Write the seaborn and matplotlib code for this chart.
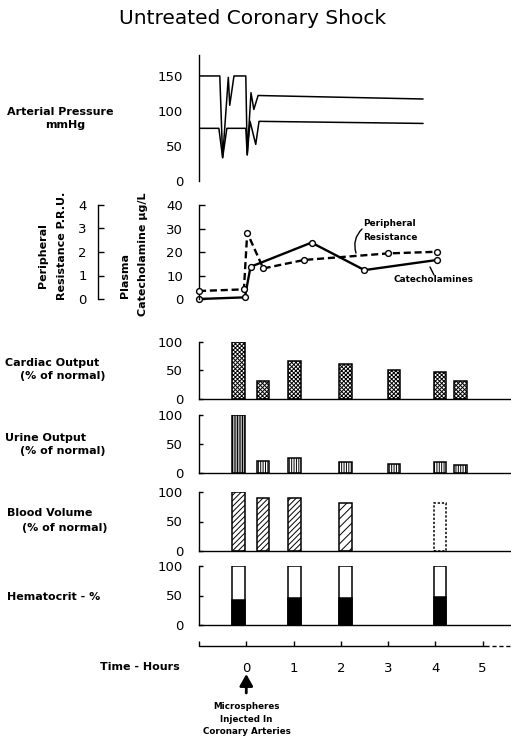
import numpy as np
import matplotlib
matplotlib.use("Agg")
import matplotlib.pyplot as plt
import seaborn as sns

# ---------------------------------------------------------------- data
TITLE = "Untreated Coronary Shock"

# arterial pressure trace (mmHg) against time in hours
AP_SYS_T = [-1.0, -0.56, -0.50, -0.38, -0.35, -0.26, -0.01, 0.02, 0.10, 0.16, 0.25, 3.74]
AP_SYS_V = [150, 150, 33, 148, 108, 150, 150, 37, 126, 102, 122, 117]
AP_DIA_T = [-1.0, -0.58, -0.50, -0.41, -0.01, 0.02, 0.08, 0.20, 0.27, 3.74]
AP_DIA_V = [75, 75, 33, 75, 75, 37, 85, 52, 85, 82]

# plasma catecholamine (ug/L) and peripheral resistance (P.R.U.)
CATECHOL_T = [-1.0, -0.03, 0.09, 1.38, 2.5, 4.03]
CATECHOL_V = [0.0, 0.7, 13.7, 24.0, 12.3, 16.6]
PR_T = [-1.0, -0.05, 0.02, 0.36, 1.22, 3.0, 4.03]
PR_V = [0.34, 0.41, 2.82, 1.30, 1.66, 1.94, 2.01]

# bar measurements (% of normal / %)
BAR_T = [-0.17, 0.35, 1.02, 2.10, 3.12, 4.10, 4.53]
CARDIAC = [100, 32, 67, 62, 51, 47, 32]
URINE = [100, 20, 25, 18, 15, 18, 13]
BV_T = [-0.17, 0.35, 1.02, 2.10, 4.10]
BLOOD_VOL = [100, 91, 90, 82, 82]
HCT_T = [-0.17, 1.02, 2.10, 4.10]
HCT = [43, 46, 46, 47]
HCT_TOTAL = [100, 100, 100, 100]

HOUR_TICKS = [-1, 0, 1, 2, 3, 4, 5]
HOUR_LABELS = ["", "0", "1", "2", "3", "4", "5"]

# ---------------------------------------------------------------- style
sns.set_theme(style="ticks")
plt.rcParams.update({
    "font.family": ["DejaVu Sans"],
    "text.color": "black",
    "axes.labelcolor": "black",
    "axes.linewidth": 1.0,
    "axes.edgecolor": "black",
    "ytick.major.width": 1.0,
    "xtick.major.width": 1.0,
    "ytick.color": "black",
    "xtick.color": "black",
    "ytick.labelcolor": "black",
    "xtick.labelcolor": "black",
    "hatch.linewidth": 0.7,
    "hatch.color": "black",
})

W, H = 511, 738
fig = plt.figure(figsize=(W / 100, H / 100), dpi=100)
fig.patch.set_facecolor("white")
X0, X1 = 199, 511
XLIM = (-1, 5.6)
BAR_W = 0.265
TICK_FS = 9.5
LAB_FS = 8


def axes_at(top, bottom, left=X0, right=X1):
    ax = fig.add_axes([left / W, 1 - bottom / H, (right - left) / W, (bottom - top) / H])
    ax.set_xlim(*XLIM)
    ax.patch.set_alpha(0)
    for s in ("top", "right", "bottom"):
        ax.spines[s].set_visible(False)
    ax.set_xticks([])
    ax.set_xlabel("")
    ax.set_ylabel("")
    return ax


def fig_text(x, y, s, **kw):
    kw.setdefault("fontsize", LAB_FS)
    kw.setdefault("fontweight", "bold")
    kw.setdefault("color", "black")
    fig.text(x / W, 1 - y / H, s, **kw)


def y_ticks(ax, ticks, length=3, pad=11.5):
    ax.set_yticks(ticks)
    ax.set_yticklabels([str(t) for t in ticks])
    ax.tick_params(axis="y", direction="in", length=length, pad=pad,
                   labelsize=TICK_FS, labelcolor="black", color="black")


def bars(ax, t, v, hatches=None, color="white", **kw):
    width = BAR_W / np.min(np.diff(sorted(t)))
    n0 = len(ax.patches)
    sns.barplot(x=t, y=v, native_scale=True, orient="x", width=width,
                color=color, saturation=1, edgecolor="black", linewidth=1.1,
                errorbar=None, ax=ax, **kw)
    new = ax.patches[n0:]
    if hatches is not None:
        for p, h in zip(new, hatches):
            p.set_hatch(h)
    return new


fig_text(252.5, 19, TITLE, fontsize=14.5, fontweight="normal", ha="center", va="center")

# ---------------------------------------------------------------- arterial pressure
ax1 = axes_at(55, 180.7)
ax1.set_ylim(0, 180)
sns.lineplot(x=AP_SYS_T, y=AP_SYS_V, ax=ax1, color="black", lw=1.1,
             sort=False, estimator=None)
sns.lineplot(x=AP_DIA_T, y=AP_DIA_V, ax=ax1, color="black", lw=1.1,
             sort=False, estimator=None)
y_ticks(ax1, [0, 50, 100, 150], length=0)
ax1.set_xlim(*XLIM)
ax1.set_xlabel("")
fig_text(7, 112, "Arterial Pressure", ha="left", va="center")
fig_text(45, 125, "mmHg", ha="left", va="center")

# ---------------------------------------------------------------- catecholamine / resistance
ax2 = axes_at(205, 299)
ax2.set_ylim(0, 40)
y_ticks(ax2, [0, 10, 20, 30, 40], length=4)
pr = ax2.twinx()
pr.set_ylim(0, 4)
pr.patch.set_alpha(0)
for s in ("top", "right", "bottom"):
    pr.spines[s].set_visible(False)
pr.spines["left"].set_visible(True)
pr.spines["left"].set_position(("axes", (98 - X0) / (X1 - X0)))
pr.yaxis.set_ticks_position("left")
pr.yaxis.set_label_position("left")
pr.set_yticks([0, 1, 2, 3, 4])
pr.set_yticklabels(["0", "1", "2", "3", "4"])
pr.tick_params(axis="y", direction="in", length=4, pad=8, labelsize=TICK_FS,
               labelcolor="black", color="black")

marker_kw = dict(marker="o", markersize=4.2, markerfacecolor="white",
                 markeredgecolor="black", markeredgewidth=1.0, clip_on=False)
sns.lineplot(x=PR_T, y=PR_V, ax=pr, color="black", lw=1.7,
             linestyle=(0, (3, 1.6)), sort=False, estimator=None, **marker_kw)
sns.lineplot(x=CATECHOL_T, y=CATECHOL_V, ax=ax2, color="black", lw=1.7,
             sort=False, estimator=None, **marker_kw)
for a in (ax2, pr):
    a.set_xlim(*XLIM)
    a.set_xlabel("")
    a.set_ylabel("")
    a.set_xticks([])

fig_text(43, 256, "Peripheral", rotation=90, ha="center", va="center")
fig_text(62, 246, "Resistance P.R.U.", rotation=90, ha="center", va="center")
fig_text(125, 275, "Plasma", rotation=90, ha="center", va="center")
fig_text(143, 254, "Catecholamine \u03bcg/L", rotation=90, ha="center", va="center")

fig_text(363, 224, "Peripheral", fontsize=6.4, ha="left", va="center")
fig_text(363, 237, "Resistance", fontsize=6.4, ha="left", va="center")
fig_text(393, 279, "Catecholamines", fontsize=6.4, ha="left", va="center")
ax2.annotate("", xy=(356, H - 253), xycoords="figure pixels",
             xytext=(362, H - 229), textcoords="figure pixels",
             arrowprops=dict(arrowstyle="-", connectionstyle="arc3,rad=0.3",
                             lw=1.0, color="black", shrinkA=0, shrinkB=0))
ax2.annotate("", xy=(434, H - 275), xycoords="figure pixels",
             xytext=(430, H - 267), textcoords="figure pixels",
             arrowprops=dict(arrowstyle="-", lw=1.0, color="black",
                             shrinkA=0, shrinkB=0))

# ---------------------------------------------------------------- bar panels
def bar_axes(top, bottom):
    ax = axes_at(top, bottom)
    ax.spines["bottom"].set_visible(True)
    ax.set_ylim(0, 100)
    return ax


ax3 = bar_axes(341.7, 399.3)
bars(ax3, BAR_T, CARDIAC, hatches=["xxxxxxxx"] * len(CARDIAC))
fig_text(5, 363, "Cardiac Output", ha="left", va="center")
fig_text(20, 376, "(% of normal)", ha="left", va="center")

ax4 = bar_axes(415, 472.5)
bars(ax4, BAR_T, URINE, hatches=["|" * 10] + ["|" * 7] * (len(URINE) - 1))
fig_text(5, 438, "Urine Output", ha="left", va="center")
fig_text(20, 451, "(% of normal)", ha="left", va="center")

ax5 = bar_axes(492.3, 550.7)
bv = bars(ax5, BV_T, BLOOD_VOL, hatches=["//////", "//////", "//////", "////", ""])
bv[-1].set_linestyle((0, (1.5, 1.2)))
fig_text(7, 513, "Blood Volume", ha="left", va="center")
fig_text(22, 528, "(% of normal)", ha="left", va="center")

ax6 = bar_axes(566, 625)
bars(ax6, HCT_T, HCT_TOTAL, color="white")
bars(ax6, HCT_T, HCT, color="black")
fig_text(7, 597, "Hematocrit - %", ha="left", va="center")

for a in (ax3, ax4, ax5, ax6):
    a.set_xlim(*XLIM)
    a.set_xticks([])
    a.set_xlabel("")
    a.set_ylabel("")
    y_ticks(a, [0, 50, 100], length=3)

# ---------------------------------------------------------------- time axis
axt = axes_at(630, 646)
axt.spines["left"].set_visible(False)
axt.set_ylim(0, 1)
axt.set_yticks([])
axt.plot([-1, 5.05], [0, 0], color="black", lw=1.0, clip_on=False)
axt.plot([5.05, 5.6], [0, 0], color="black", lw=1.0, clip_on=False,
         linestyle=(0, (3, 2)))
axt.set_xticks(HOUR_TICKS)
axt.set_xticklabels(HOUR_LABELS)
axt.tick_params(axis="x", direction="in", length=3.5, pad=11.5,
                labelsize=TICK_FS, labelcolor="black", color="black")
fig_text(100, 667, "Time - Hours", ha="left", va="center")

axt.annotate("", xy=(0, H - 674), xycoords=("data", "figure pixels"),
             xytext=(0, H - 693), textcoords=("data", "figure pixels"),
             arrowprops=dict(arrowstyle="-|>,head_length=0.5,head_width=0.28",
                             lw=2.0, color="black", shrinkA=0, shrinkB=0,
                             mutation_scale=14))
for yy, s in zip([706.7, 719.3, 731.7],
                 ["Microspheres", "Injected In", "Coronary Arteries"]):
    fig_text(246.5, yy, s, fontsize=6.3, ha="center", va="center")

fig.savefig("out.png", dpi=100, facecolor="white")
